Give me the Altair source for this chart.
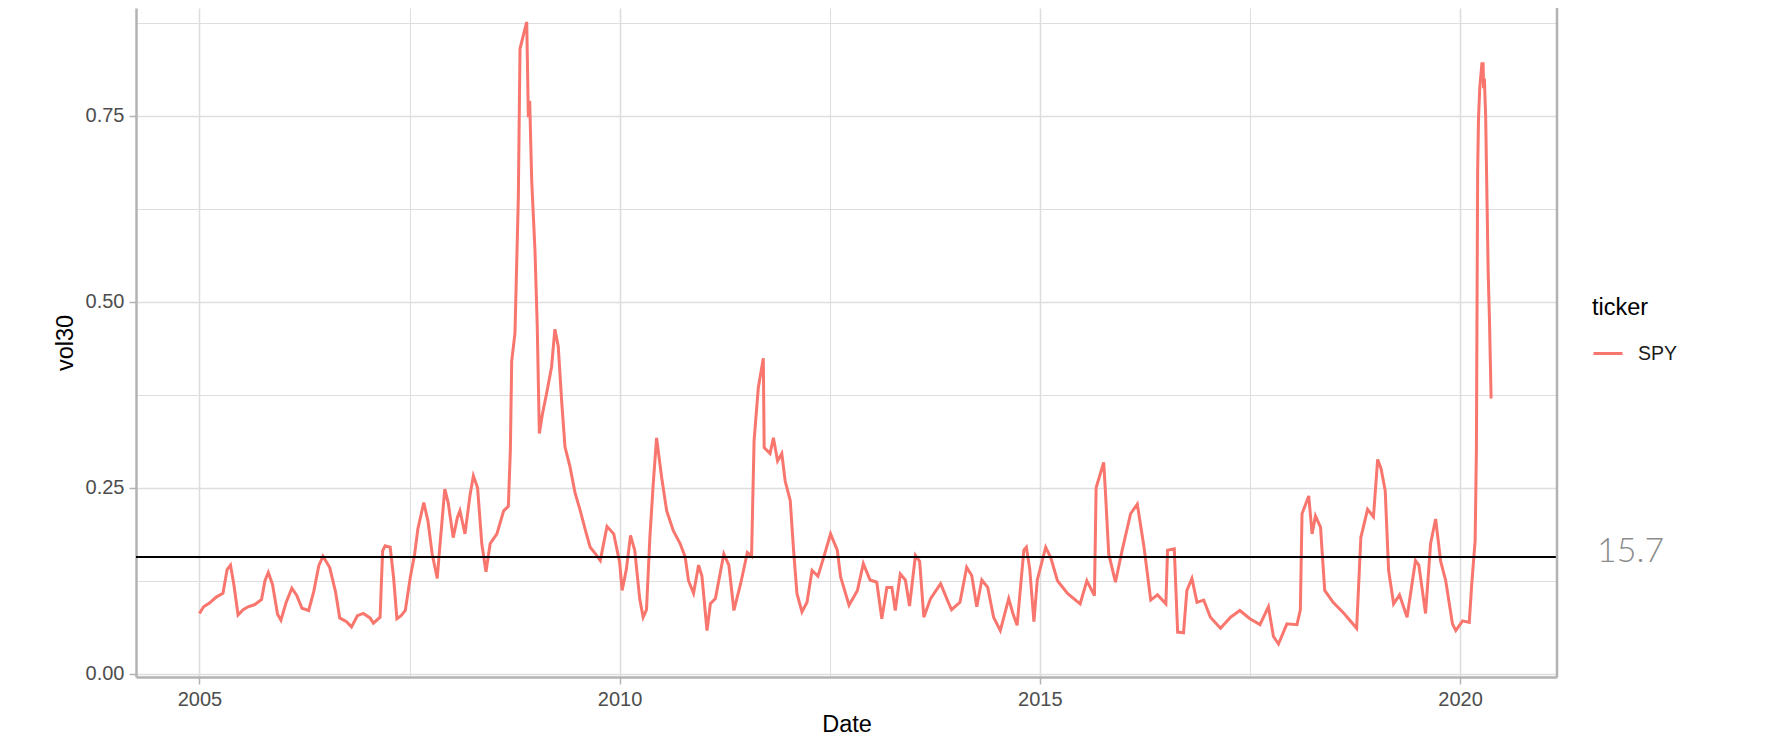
import altair as alt
import pandas as pd

# ---- data (decimal year, 30-day vol) ----
DATES = [
    2005.00, 2005.05, 2005.12, 2005.20, 2005.28, 2005.33, 2005.37, 2005.41, 2005.46, 2005.52,
    2005.58, 2005.66, 2005.74, 2005.78, 2005.82, 2005.87, 2005.93, 2005.97, 2006.03, 2006.10,
    2006.16, 2006.22, 2006.30, 2006.36, 2006.42, 2006.47, 2006.55, 2006.62, 2006.67, 2006.75,
    2006.81, 2006.88, 2006.95, 2007.03, 2007.07, 2007.15, 2007.18, 2007.21, 2007.27, 2007.31,
    2007.35, 2007.40, 2007.45, 2007.51, 2007.56, 2007.60, 2007.67, 2007.72, 2007.77, 2007.83,
    2007.86, 2007.92, 2007.96, 2008.02, 2008.07, 2008.10, 2008.16, 2008.22, 2008.26, 2008.31,
    2008.36, 2008.41, 2008.46, 2008.54, 2008.62, 2008.676, 2008.70, 2008.716, 2008.755, 2008.795,
    2008.815, 2008.854, 2008.895, 2008.914, 2008.93, 2008.954, 2008.993, 2009.02, 2009.045, 2009.08,
    2009.13, 2009.19, 2009.23, 2009.27, 2009.31, 2009.35, 2009.41, 2009.47, 2009.53, 2009.60,
    2009.65, 2009.72, 2009.77, 2009.85, 2009.93, 2010.00, 2010.03, 2010.08, 2010.13, 2010.18,
    2010.24, 2010.28, 2010.32, 2010.36, 2010.40, 2010.44, 2010.50, 2010.56, 2010.64, 2010.72,
    2010.78, 2010.82, 2010.88, 2010.94, 2010.98, 2011.04, 2011.08, 2011.14, 2011.24, 2011.30,
    2011.36, 2011.44, 2011.52, 2011.57, 2011.60, 2011.65, 2011.71, 2011.72, 2011.79, 2011.83,
    2011.88, 2011.93, 2011.97, 2012.03, 2012.07, 2012.11, 2012.17, 2012.23, 2012.29, 2012.36,
    2012.43, 2012.51, 2012.59, 2012.63, 2012.73, 2012.83, 2012.90, 2012.98, 2013.06, 2013.12,
    2013.18, 2013.24, 2013.28, 2013.34, 2013.40, 2013.45, 2013.52, 2013.57, 2013.62, 2013.70,
    2013.82, 2013.90, 2013.95, 2014.05, 2014.13, 2014.19, 2014.25, 2014.31, 2014.38, 2014.45,
    2014.53, 2014.63, 2014.68, 2014.73, 2014.81, 2014.84, 2014.88, 2014.93, 2014.97, 2015.07,
    2015.13, 2015.21, 2015.33, 2015.48, 2015.56, 2015.65, 2015.67, 2015.76, 2015.78, 2015.82,
    2015.90, 2015.98, 2016.08, 2016.16, 2016.24, 2016.32, 2016.40, 2016.50, 2016.52, 2016.60,
    2016.64, 2016.71, 2016.75, 2016.81, 2016.87, 2016.95, 2017.03, 2017.15, 2017.27, 2017.38,
    2017.50, 2017.62, 2017.72, 2017.78, 2017.84, 2017.94, 2018.06, 2018.10, 2018.12, 2018.20,
    2018.24, 2018.28, 2018.34, 2018.39, 2018.49, 2018.62, 2018.77, 2018.82, 2018.90, 2018.97,
    2019.02, 2019.06, 2019.11, 2019.15, 2019.21, 2019.28, 2019.37, 2019.47, 2019.51, 2019.59,
    2019.65, 2019.71, 2019.77, 2019.83, 2019.91, 2019.95, 2020.03, 2020.11, 2020.14, 2020.18,
    2020.195, 2020.20, 2020.21, 2020.22, 2020.235, 2020.26, 2020.275, 2020.28, 2020.29, 2020.305,
    2020.335, 2020.35, 2020.37,
]
VOL30 = [
    0.081, 0.090, 0.095, 0.103, 0.108, 0.140, 0.146, 0.120, 0.079, 0.086,
    0.090, 0.093, 0.100, 0.125, 0.136, 0.120, 0.080, 0.072, 0.095, 0.115,
    0.105, 0.088, 0.085, 0.110, 0.145, 0.158, 0.143, 0.110, 0.075, 0.070,
    0.063, 0.078, 0.081, 0.075, 0.068, 0.076, 0.165, 0.172, 0.170, 0.130,
    0.074, 0.078, 0.085, 0.130, 0.160, 0.195, 0.230, 0.205, 0.161, 0.128,
    0.170, 0.248, 0.230, 0.183, 0.210, 0.219, 0.188, 0.240, 0.266, 0.250,
    0.175, 0.137, 0.175, 0.188, 0.219, 0.225, 0.300, 0.420, 0.458, 0.640,
    0.840, 0.858, 0.876, 0.748, 0.770, 0.663, 0.569, 0.467, 0.323, 0.348,
    0.376, 0.412, 0.463, 0.440, 0.367, 0.305, 0.278, 0.243, 0.220, 0.190,
    0.170, 0.160, 0.152, 0.198, 0.188, 0.150, 0.112, 0.140, 0.186, 0.166,
    0.100, 0.076, 0.086, 0.183, 0.255, 0.317, 0.264, 0.219, 0.192, 0.175,
    0.157, 0.125, 0.108, 0.146, 0.131, 0.058, 0.094, 0.101, 0.161, 0.146,
    0.085, 0.121, 0.163, 0.158, 0.313, 0.384, 0.424, 0.304, 0.296, 0.317,
    0.286, 0.296, 0.259, 0.233, 0.166, 0.108, 0.083, 0.096, 0.139, 0.131,
    0.157, 0.188, 0.166, 0.130, 0.092, 0.112, 0.148, 0.126, 0.123, 0.074,
    0.116, 0.116, 0.085, 0.134, 0.126, 0.091, 0.159, 0.151, 0.076, 0.101,
    0.121, 0.099, 0.086, 0.096, 0.143, 0.132, 0.090, 0.126, 0.116, 0.076,
    0.058, 0.101, 0.081, 0.065, 0.166, 0.170, 0.141, 0.070, 0.126, 0.170,
    0.156, 0.125, 0.108, 0.094, 0.125, 0.105, 0.250, 0.284, 0.246, 0.161,
    0.123, 0.166, 0.215, 0.228, 0.170, 0.099, 0.106, 0.094, 0.166, 0.168,
    0.056, 0.055, 0.112, 0.128, 0.096, 0.099, 0.076, 0.061, 0.076, 0.085,
    0.074, 0.066, 0.090, 0.050, 0.040, 0.067, 0.066, 0.086, 0.215, 0.239,
    0.188, 0.212, 0.197, 0.112, 0.096, 0.081, 0.061, 0.183, 0.221, 0.211,
    0.288, 0.276, 0.246, 0.139, 0.094, 0.106, 0.076, 0.152, 0.146, 0.081,
    0.175, 0.208, 0.151, 0.125, 0.067, 0.058, 0.071, 0.069, 0.121, 0.179,
    0.300, 0.431, 0.677, 0.746, 0.787, 0.820, 0.820, 0.787, 0.800, 0.750,
    0.540, 0.478, 0.370,
]
TICKER = ["SPY"]
HLINE = [0.157]
HLINE_LABEL = ["15.7"]
X_BREAKS = [2005, 2007.5, 2010, 2012.5, 2015, 2017.5, 2020]
Y_BREAKS = [0.0, 0.125, 0.25, 0.375, 0.5, 0.625, 0.75, 0.875]

df = pd.DataFrame({"Date": DATES, "vol30": VOL30, "ticker": TICKER[0]})
hdf = pd.DataFrame({"yint": HLINE, "label": HLINE_LABEL})

W, H = 1421, 669
FONT = "Liberation Sans"
GRID = "#dedede"
BORDER = "#b3b3b3"

x_scale = alt.Scale(domain=[2004.2456, 2021.154], nice=False, zero=False)
y_scale = alt.Scale(domain=[-0.0044, 0.8948], nice=False, zero=False)

common_axis = dict(
    grid=True, gridColor=GRID,
    tickColor=BORDER, tickSize=7, tickWidth=1.5,
    domainColor=BORDER, domainWidth=2.5,
    labelFont=FONT, labelFontSize=20, labelColor="#4d4d4d", labelPadding=5,
    titleFont=FONT, titleFontSize=23.5, titleFontWeight="normal", titleColor="black",
    labelOverlap=False, labelFlush=False,
)

x_axis = alt.Axis(
    values=X_BREAKS, title="Date",
    labelExpr="datum.value % 5 == 0 ? format(datum.value, 'd') : ''",
    tickOpacity={"condition": {"test": "datum.value % 5 == 0", "value": 1}, "value": 0},
    gridWidth={"condition": {"test": "datum.value % 5 == 0", "value": 1.6}, "value": 1.1},
    titlePadding=3,
    **common_axis,
)
y_axis = alt.Axis(
    values=Y_BREAKS, title="vol30",
    labelExpr="datum.value % 0.25 == 0 ? format(datum.value, '.2f') : ''",
    tickOpacity={"condition": {"test": "datum.value % 0.25 == 0", "value": 1}, "value": 0},
    gridWidth={"condition": {"test": "datum.value % 0.25 == 0", "value": 1.6}, "value": 1.1},
    titlePadding=8,
    **common_axis,
)

line = alt.Chart(df).mark_line(strokeWidth=3).encode(
    x=alt.X("Date:Q", scale=x_scale, axis=x_axis),
    y=alt.Y("vol30:Q", scale=y_scale, axis=y_axis),
    color=alt.Color(
        "ticker:N",
        scale=alt.Scale(domain=TICKER, range=["#F8766D"]),
        legend=alt.Legend(
            orient="none", legendX=1456, legendY=288, padding=0,
            title="ticker", titleFont=FONT, titleFontSize=23.5,
            titleFontWeight="normal", titleColor="black", titlePadding=18,
            labelFont=FONT, labelFontSize=19.5, labelColor="#1a1a1a",
            symbolType="stroke", symbolSize=841, symbolStrokeWidth=3,
            labelOffset=14,
        ),
    ),
)

hline = alt.Chart(hdf).mark_rule(color="black", strokeWidth=2).encode(
    y=alt.Y("yint:Q", scale=y_scale)
)

label = alt.Chart(hdf).mark_text(
    font="Lato", fontWeight=300, fontSize=34, color="#8c8c8c",
    align="left", baseline="middle", dy=-5,
).encode(
    x=alt.value(W + 40),
    y=alt.Y("yint:Q", scale=y_scale),
    text="label:N",
)

border = alt.Chart(hdf).mark_rule(color=BORDER, strokeWidth=2.5).encode(
    x=alt.value(W), y=alt.value(0), y2=alt.value(H)
)

chart = alt.layer(line, hline, label, border).properties(
    width=W, height=H,
    autosize=alt.AutoSizeParams(type="none"),
    padding={"left": 128, "top": 0, "right": 203, "bottom": 60},
    background="white",
).configure_view(stroke=None)

chart.save("out.html", embed_options={"renderer": "svg", "actions": False})
